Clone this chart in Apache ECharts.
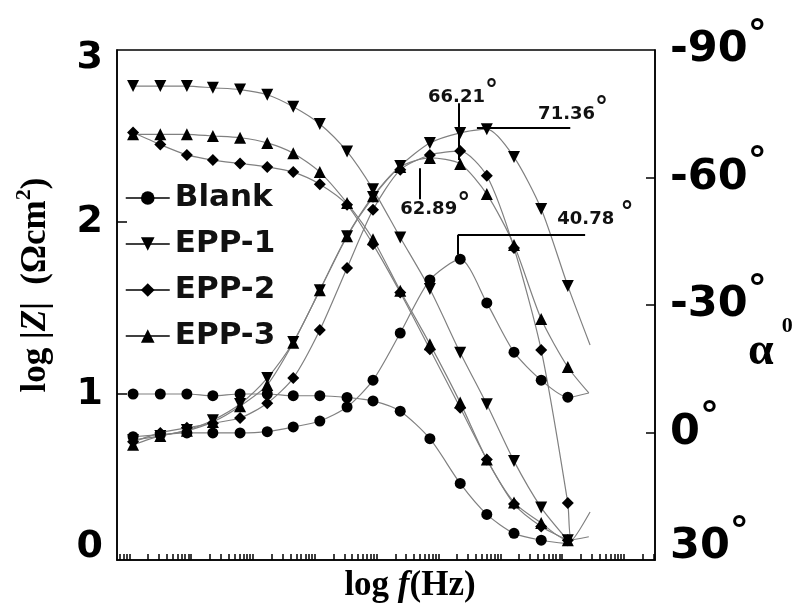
<!DOCTYPE html>
<html><head><meta charset="utf-8">
<script src="https://cdn.jsdelivr.net/npm/echarts@6/dist/echarts.min.js"></script>
<style>html,body{margin:0;padding:0;background:#fff}#c{width:801px;height:608px}</style>
</head><body><div id="c"></div>
<script>
// ---- data ----
const seriesNames = ['Blank', 'EPP-1', 'EPP-2', 'EPP-3'];
const logF = [-1.94,-1.50,-1.07,-0.65,-0.21,0.23,0.65,1.08,1.52,1.94,2.38,2.86,3.35,3.78,4.22,4.66,5.09];

// log|Z| (left axis)
const zBlank = [1.00,1.00,1.00,0.99,1.00,1.00,0.99,0.99,0.98,0.96,0.90,0.74,0.48,0.30,0.19,0.15];
const zEPP1  = [2.79,2.79,2.79,2.78,2.77,2.74,2.67,2.57,2.41,2.19,1.91,1.61,1.24,0.94,0.61,0.34,0.15];
const zEPP2  = [2.52,2.45,2.39,2.36,2.34,2.32,2.29,2.22,2.10,1.87,1.59,1.26,0.92,0.62,0.36,0.23,0.15];
const zEPP3  = [2.51,2.51,2.51,2.50,2.49,2.46,2.40,2.29,2.11,1.90,1.60,1.29,0.95,0.62,0.37,0.25,0.15];
const zBlankTail = [[5.09,0.13]];
const zEPP1Tail  = [];
const zEPP2Tail  = [];
const zEPP3Tail  = [[5.43,0.17]];

// phase angle in degrees (right axis)
const pBlank = [1.0,0.5,0.1,0.1,0.1,-0.2,-1.3,-2.7,-6.0,-12.3,-23.4,-35.9,-40.78,-30.5,-18.9,-12.3,-8.3];
const pEPP1  = [1.8,0.8,-0.6,-2.9,-6.7,-12.8,-21.3,-33.5,-46.2,-55.4,-62.7,-68.1,-70.5,-71.36,-64.8,-52.6,-34.5];
const pEPP2  = [2.2,0.1,-1.1,-2.2,-3.4,-6.9,-12.8,-24.1,-38.7,-52.4,-61.8,-65.3,-66.21,-60.4,-43.4,-19.4,16.6];
const pEPP3  = [2.9,0.8,-0.4,-2.5,-6.2,-11.2,-21.1,-33.5,-46.2,-55.6,-62.5,-64.6,-63.2,-56.1,-44.1,-26.7,-15.4];
const pBlankTail = [[5.43,-9.3]];
const pEPP1Tail  = [[5.45,-20.6]];
const pEPP2Tail  = [[5.15,25.3],[5.45,18.7]];
const pEPP3Tail  = [[5.43,-9.3]];

// axis tick labels
const leftLabels  = ['0','1','2','3'];
const rightLabels = ['-90','-60','-30','0','30'];

// peak annotations
const annText = ['66.21','71.36','62.89','40.78 '];
const annPos  = [[2.83,-78.9],[4.61,-74.8],[2.38,-52.4],[4.92,-50.2]];
const annLines = [
  [[3.33,-77.5],[3.33,-64.1]],
  [[3.62,-71.6],[5.13,-71.6]],
  [[2.70,-62.2],[2.70,-54.9]],
  [[3.31,-46.5],[5.37,-46.5]],
  [[3.31,-46.5],[3.31,-41.8]]
];

// ---- chart ----
const chart = echarts.init(document.getElementById('c'), null, {renderer:'canvas'});

const sym = {'Blank':['circle',0,11], 'EPP-1':['triangle',180,12], 'EPP-2':['diamond',0,12], 'EPP-3':['triangle',0,12]};

function buildData(vals, tail){
  const d = [];
  vals.forEach((v,i)=>{ if(v!=null) d.push([logF[i], v]); });
  tail.forEach(p=>d.push({value:p, symbol:'none'}));
  return d;
}
function mkSeries(name, vals, tail, yIdx, extra){
  const s = sym[name];
  return Object.assign({
    type:'line', name, yAxisIndex:yIdx, data:buildData(vals, tail),
    symbol:s[0], symbolRotate:s[1], symbolSize:s[2], smooth:0.25,
    showAllSymbol:true,
    lineStyle:{color:'#808080', width:1.2},
    itemStyle:{color:'#000', borderWidth:0},
    emphasis:{disabled:true}, animation:false, z:3
  }, extra||{});
}

// decade minor ticks on the log f axis
const xTicks = [];
for(let d=-3; d<=6; d++){ for(let k=1;k<=9;k++){ const v=d+Math.log10(k); if(v>=-2.2 && v<=6.5) xTicks.push(+v.toFixed(4)); } }

const degRich = {
  n:{fontFamily:'DejaVu Sans', fontWeight:'bold', fontSize:43, color:'#000', lineHeight:66, verticalAlign:'middle'},
  d:{fontFamily:'DejaVu Sans', fontWeight:'bold', fontSize:38, color:'#000', verticalAlign:'top'}
};
const annRich = {
  v:{fontFamily:'DejaVu Sans', fontWeight:'bold', fontSize:18, color:'#111', lineHeight:38, verticalAlign:'middle'},
  d:{fontFamily:'DejaVu Sans', fontWeight:'bold', fontSize:26, color:'#111', verticalAlign:'top'}
};

const option = {
  animation:false,
  backgroundColor:'#fff',
  grid:{left:117, right:146, top:50, bottom:48, show:true, borderColor:'#000', borderWidth:1.5, containLabel:false},
  legend:{
    data:seriesNames, orient:'vertical', left:120, top:177,
    itemWidth:44, itemHeight:17, itemGap:14,
    textStyle:{fontFamily:'DejaVu Sans', fontWeight:'bold', fontSize:31, color:'#111', lineHeight:32},
    lineStyle:{color:'#000', width:1.5},
    itemStyle:{color:'#000'}
  },
  xAxis:{
    type:'value', min:-2.2, max:6.5,
    axisLine:{show:true, onZero:false, lineStyle:{color:'#000', width:1.5}},
    axisTick:{show:true, inside:true, length:6, lineStyle:{color:'#000', width:1.5}, customValues:xTicks},
    axisLabel:{show:false},
    splitLine:{show:false}
  },
  yAxis:[
    {
      type:'value', position:'left', min:0.035, max:3,
      axisLine:{show:true, onZero:false, lineStyle:{color:'#000', width:1.5}},
      axisTick:{show:true, inside:true, length:10, lineStyle:{color:'#000', width:1.5}, customValues:[1,2]},
      axisLabel:{show:true, margin:14, customValues:[0.11,1,2,2.95],
        formatter:v=>leftLabels[Math.round(v)],
        fontFamily:'DejaVu Sans', fontWeight:'bold', fontSize:38, color:'#000'},
      splitLine:{show:false}
    },
    {
      type:'value', position:'right', min:-90, max:30, inverse:true, interval:30,
      axisLine:{show:true, onZero:false, lineStyle:{color:'#000', width:1.5}},
      axisTick:{show:true, inside:true, length:9, lineStyle:{color:'#000', width:1.5}, customValues:[-60,-30,0]},
      axisLabel:{show:true, margin:15, customValues:[-90,-60,-30,0,27],
        formatter:v=>'{n|'+rightLabels[Math.round((v+90)/30)]+'}{d|°}', rich:degRich},
      splitLine:{show:false}
    }
  ],
  series:[
    mkSeries('Blank', zBlank, zBlankTail, 0),
    mkSeries('EPP-1', zEPP1, zEPP1Tail, 0),
    mkSeries('EPP-2', zEPP2, zEPP2Tail, 0),
    mkSeries('EPP-3', zEPP3, zEPP3Tail, 0),
    mkSeries('Blank', pBlank, pBlankTail, 1, {
      markLine:{silent:true, symbol:'none', animation:false,
        lineStyle:{color:'#000', width:2, type:'solid'}, label:{show:false},
        data:annLines.map(l=>[{coord:l[0]},{coord:l[1]}])},
      markPoint:{silent:true, animation:false, symbol:'circle', symbolSize:0,
        data:annText.map((t,i)=>({coord:annPos[i], value:t,
          label:{show:true, position:[0,0], align:'left', verticalAlign:'middle',
            formatter:'{v|'+t+'}{d|°}', rich:annRich}}))}
    }),
    mkSeries('EPP-1', pEPP1, pEPP1Tail, 1),
    mkSeries('EPP-2', pEPP2, pEPP2Tail, 1),
    mkSeries('EPP-3', pEPP3, pEPP3Tail, 1)
  ],
  graphic:[
    {type:'text', x:36, y:285, rotation:Math.PI/2, silent:true,
      style:{text:'{a|log |}{z|Z}{a||  (Ωcm}{s|2}{a|)}', align:'center', verticalAlign:'middle',
        rich:{
          a:{fontFamily:'Liberation Serif', fontWeight:'bold', fontSize:35, fill:'#000', lineHeight:46, verticalAlign:'middle'},
          z:{fontFamily:'Liberation Serif', fontWeight:'bold', fontStyle:'italic', fontSize:35, fill:'#000', lineHeight:46, verticalAlign:'middle'},
          s:{fontFamily:'Liberation Serif', fontWeight:'bold', fontSize:22, fill:'#000', verticalAlign:'top'}
        }}},
    {type:'text', x:410, y:586, silent:true,
      style:{text:'{a|log }{f|f}{a|(Hz)}', align:'center', verticalAlign:'middle',
        rich:{
          a:{fontFamily:'Liberation Serif', fontWeight:'bold', fontSize:35, fill:'#000'},
          f:{fontFamily:'Liberation Serif', fontWeight:'bold', fontStyle:'italic', fontSize:35, fill:'#000'}
        }}},
    {type:'text', x:748, y:345, silent:true,
      style:{text:'{a|α}{s|0}', align:'left', verticalAlign:'middle',
        rich:{
          a:{fontFamily:'Liberation Serif', fontWeight:'bold', fontSize:46, fill:'#000', lineHeight:60, verticalAlign:'bottom'},
          s:{fontFamily:'Liberation Serif', fontWeight:'bold', fontSize:22, fill:'#000', lineHeight:22, verticalAlign:'top', padding:[0,0,0,8]}
        }}}
  ]
};
chart.setOption(option);
</script>
</body></html>
